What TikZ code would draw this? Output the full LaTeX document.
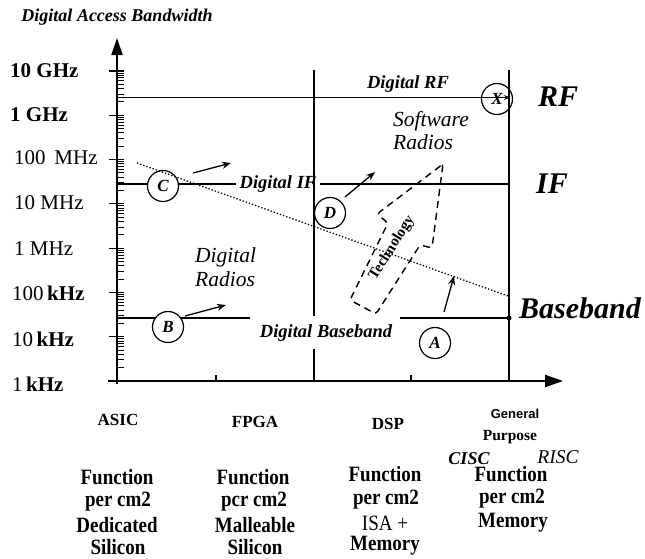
\documentclass[tikz,border=0pt]{standalone}
\usepackage{fontspec}
\usepackage{graphicx}
\setmainfont{Liberation Serif}
\newfontfamily\sansfam{Liberation Sans}
\usetikzlibrary{arrows.meta}
\newcommand{\tallbox}[1]{\scalebox{1}[1.15]{#1}}
\begin{document}
\begin{tikzpicture}[x=1pt,y=-1pt,
  gridline/.style={line width=1.2pt},
  axisline/.style={line width=2pt},
  ylab/.style={anchor=west,inner sep=0pt,font=\fontsize{21}{22}\selectfont},
  circ/.style={circle,draw,line width=1.2pt,minimum size=31pt,inner sep=0pt,fill=white,font=\fontsize{17}{17}\selectfont\bfseries\itshape},
  lbl/.style={inner sep=1pt,font=\fontsize{18.5}{19}\selectfont\bfseries\itshape},
  biglbl/.style={anchor=base west,inner sep=0pt,font=\fontsize{30}{30}\selectfont\bfseries\itshape},
  region/.style={anchor=base west,inner sep=0pt,font=\fontsize{21.5}{22}\selectfont\itshape},
  pointer/.style={line width=1.3pt,-{Stealth[length=9pt,width=7pt]}},
  colhead/.style={inner sep=0pt,font=\fontsize{17}{18}\selectfont\bfseries},
  colbody/.style={inner sep=0pt,font=\fontsize{19}{20}\selectfont\bfseries},
  colbodyr/.style={inner sep=0pt,font=\fontsize{19}{20}\selectfont},
]
\useasboundingbox (0,0) rectangle (645,558);

% title
\node[lbl,font=\fontsize{18}{18}\selectfont\bfseries\itshape] (title) at (117,17) {Digital Access Bandwidth};

% axes
\coordinate (ytop) at (117,38);
\coordinate (yfoot) at (117,384);
\coordinate (xleft) at (108,381);
\coordinate (xtip) at (563,381);
\draw[axisline,-{Triangle[length=17pt,width=11pt]}] (yfoot) -- (ytop);
\draw[axisline,-{Triangle[length=18pt,width=12pt]}] (xleft) -- (xtip);

% log ticks
\foreach \d in {0,...,6}{
  \draw[line width=1.2pt] (109,{381-44.29*\d}) -- (124,{381-44.29*\d});
  \foreach \k in {2,...,9}{
    \draw[line width=0.9pt] (117,{381-44.29*(\d+log10(\k))}) -- (124,{381-44.29*(\d+log10(\k))});
  }
}
\draw[line width=1.2pt] (109,71) -- (124,71);
% x ticks
\draw[line width=1.2pt] (216,375) -- (216,381);
\draw[line width=1.2pt] (411,375) -- (411,381);

% y labels
\node[ylab,font=\fontsize{21}{22}\selectfont\bfseries] (l10g) at (10,71) {10 GHz};
\node[ylab,font=\fontsize{21}{22}\selectfont\bfseries] (l1g) at (10,115) {1 GHz};
\node[ylab] (l100m) at (14,158) {100\, MHz};
\node[ylab] (l10m) at (14,203) {10 MHz};
\node[ylab] (l1m) at (14,249) {1 MHz};
\node[ylab] (l100k) at (12,293) {100\,\textbf{kHz}};
\node[ylab] (l10k) at (12,339) {10\,\textbf{kHz}};
\node[ylab] (l1k) at (12,384) {1\,\textbf{kHz}};

% vertical lines
\draw[gridline] (314,70) -- (314,316);
\draw[gridline] (314,349) -- (314,381);
\draw[gridline] (509,70) -- (509,381);

% RF line
\coordinate (rfstart) at (117,97.5);
\coordinate (rfend) at (510,97.5);
\draw[gridline,-{Stealth[length=6pt,width=5pt]}] (rfstart) -- (rfend);
\node[circ,fill=none] (X) at (497,99) {X};
\node[lbl] (drf) at (408,84) {Digital RF};

% IF line
\coordinate (ifstart) at (117,184);
\coordinate (ifend) at (509,184);
\node[lbl,inner xsep=4pt] (dif) at (278,184) {Digital IF};
\draw[gridline] (ifstart) -- (dif.west);
\draw[gridline] (dif.east) -- (ifend);

% baseband line
\coordinate (bbstart) at (117,318);
\coordinate (bbgapl) at (250,318);
\coordinate (bbgapr) at (400,318);
\coordinate (bbend) at (509,318);
\draw[gridline] (bbstart) -- (bbgapl);
\draw[gridline] (bbgapr) -- (bbend);
\fill (bbend) circle (2.5pt);
\node[lbl] (dbb) at (326,333) {Digital Baseband};

% technology arrow
\draw[line width=1.4pt,dash pattern=on 7pt off 5pt,rounded corners=3pt]
  (443,164) -- (377,214) -- (388,223) -- (350,300) -- (376,314) -- (420,245) -- (432,248) -- cycle;
\node[inner sep=0pt,rotate=58,font=\fontsize{15}{15}\selectfont\bfseries] (tech) at (392,248) {Technology};

% dotted trend line
\coordinate (dotA) at (137,163);
\coordinate (dotB) at (508,296);

% circles
\node[circ] (C) at (163,186) {C};
\node[circ] (B) at (168,327) {B};
\node[circ] (D) at (330,213) {D};
\node[circ] (A) at (435,343) {A};
\draw[line width=1.3pt,dotted] (dotA) -- (dotB);

% pointer arrows
\coordinate (pc1) at (193,173); \coordinate (pc2) at (231,163);
\coordinate (pb1) at (185,316); \coordinate (pb2) at (226,305);
\coordinate (pd1) at (345,197); \coordinate (pd2) at (375,172);
\coordinate (pa1) at (444,312); \coordinate (pa2) at (454,276);
\draw[pointer] (pc1) -- (pc2);
\draw[pointer] (pb1) -- (pb2);
\draw[pointer] (pd1) -- (pd2);
\draw[pointer] (pa1) -- (pa2);

% region labels
\node[region] (sw1) at (393,126) {Software};
\node[region] (sw2) at (393,149) {Radios};
\node[region] (dr1) at (195,262) {Digital};
\node[region] (dr2) at (195,286) {Radios};

% big labels
\node[biglbl] (RF) at (538,106) {RF};
\node[biglbl] (IF) at (536,193) {IF};
\node[biglbl] (BB) at (519,318) {Baseband};

% column headings
\node[colhead] (asic) at (118,420) {ASIC};
\node[colhead] (fpga) at (255,422) {FPGA};
\node[colhead] (dsp) at (388,424) {DSP};
\node[inner sep=0pt,font=\sansfam\fontsize{13}{14}\selectfont\bfseries] (gen) at (515,414) {General};
\node[inner sep=0pt,font=\fontsize{15.5}{16}\selectfont\bfseries] (purp) at (510,437) {Purpose};
\node[inner sep=0pt,font=\fontsize{18}{18}\selectfont\bfseries\itshape] (cisc) at (469,459) {CISC};
\node[inner sep=0pt,font=\fontsize{19.5}{20}\selectfont\itshape] (risc) at (558,457) {RISC};

% column bodies
\node[colbody] (f1) at (117,477) {\tallbox{Function}};
\node[colbody] (p1) at (118,502) {\tallbox{per cm2}};
\node[colbody] (d1) at (117,525) {\tallbox{Dedicated}};
\node[colbody] (s1) at (118,547) {\tallbox{Silicon}};
\node[colbody] (f2) at (253,477) {\tallbox{Function}};
\node[colbody] (p2) at (254,502) {\tallbox{pcr cm2}};
\node[colbody] (m2) at (255,525) {\tallbox{Malleable}};
\node[colbody] (s2) at (255,547) {\tallbox{Silicon}};
\node[colbody] (f3) at (385,474) {\tallbox{Function}};
\node[colbody] (p3) at (386,500) {\tallbox{per cm2}};
\node[colbodyr] (i3) at (385,523) {\tallbox{ISA +}};
\node[colbody] (m3) at (385,546) {\tallbox{Memory}};
\node[colbody] (f4) at (511,474) {\tallbox{Function}};
\node[colbody] (p4) at (512,499) {\tallbox{per cm2}};
\node[colbody] (m4) at (513,523) {\tallbox{Memory}};
\end{tikzpicture}
\end{document}
